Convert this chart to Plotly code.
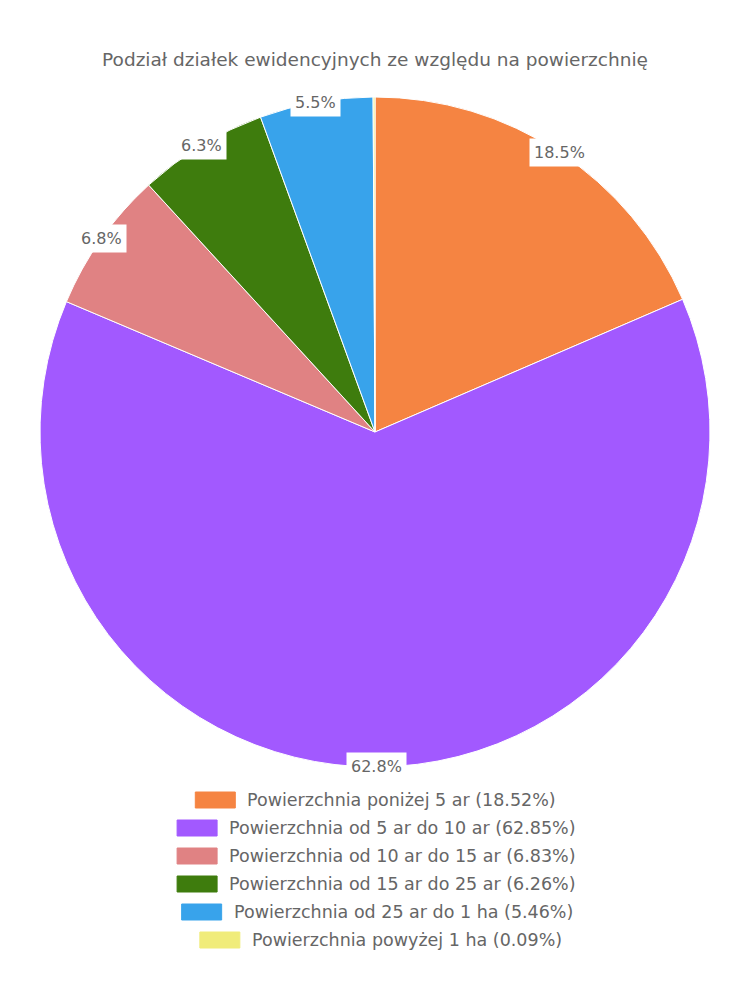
import math
import plotly.graph_objects as go

title = "Podział działek ewidencyjnych ze względu na powierzchnię"
categories = [
    "Powierzchnia poniżej 5 ar",
    "Powierzchnia od 5 ar do 10 ar",
    "Powierzchnia od 10 ar do 15 ar",
    "Powierzchnia od 15 ar do 25 ar",
    "Powierzchnia od 25 ar do 1 ha",
    "Powierzchnia powyżej 1 ha",
]
values = [18.52, 62.85, 6.83, 6.26, 5.46, 0.09]
colors = ["#F58442", "#A259FF", "#E08283", "#3E7C0D", "#38A3EB", "#F0EC7A"]

W, H = 750, 1000
OFF = 8  # page body margin compensation
CX, CY, R = 375 - OFF, 432 - OFF, 335
FONT = "DejaVu Sans"
GREY = "#666666"


def px_x(x):
    return x / W


def px_y(y):
    return 1 - y / H


fig = go.Figure()
fig.add_trace(go.Pie(
    labels=categories,
    values=values,
    marker=dict(colors=colors, line=dict(color="white", width=1)),
    sort=False,
    direction="clockwise",
    rotation=0,
    textinfo="none",
    hoverinfo="label+percent",
    showlegend=False,
    domain=dict(x=[px_x(CX - R), px_x(CX + R)], y=[px_y(CY + R), px_y(CY - R)]),
))

annotations = []
total = sum(values)
cum = 0.0
for v in values:
    mid = (cum + v / 2) / total * 2 * math.pi
    cum += v
    pct = v / total * 100
    if pct < 1:
        continue
    lx = CX + R * math.sin(mid)
    ly = CY - R * math.cos(mid)
    annotations.append(dict(
        x=px_x(lx), y=px_y(ly), xref="paper", yref="paper",
        text=f"{pct:.1f}%", showarrow=False,
        font=dict(family=FONT, size=16, color=GREY),
        bgcolor="white", borderpad=4,
        xanchor="center", yanchor="middle",
    ))

shapes = []
CHAR_W = 9.1
row_y0 = 800 - OFF
row_dy = 28
for i, (c, v, col) in enumerate(zip(categories, values, colors)):
    txt = f"{c} ({v:.2f}%)"
    tw = len(txt) * CHAR_W
    total_w = 40 + 10 + tw
    left = CX - total_w / 2
    y = row_y0 + i * row_dy
    shapes.append(dict(
        type="rect", xref="paper", yref="paper",
        x0=px_x(left), x1=px_x(left + 40),
        y0=px_y(y + 8), y1=px_y(y - 8),
        fillcolor=col, line=dict(color=col, width=1),
    ))
    annotations.append(dict(
        x=px_x(left + 50), y=px_y(y), xref="paper", yref="paper",
        text=txt, showarrow=False, xanchor="left", yanchor="middle",
        font=dict(family=FONT, size=17.5, color=GREY),
    ))

fig.update_layout(
    width=W, height=H,
    margin=dict(l=0, r=0, t=0, b=0),
    paper_bgcolor="white",
    plot_bgcolor="white",
    title=dict(text=title, x=px_x(CX), xanchor="center", y=px_y(60 - OFF), yanchor="middle",
               font=dict(family=FONT, size=18.5, color=GREY)),
    annotations=annotations,
    shapes=shapes,
)

fig.write_html("out.html")
